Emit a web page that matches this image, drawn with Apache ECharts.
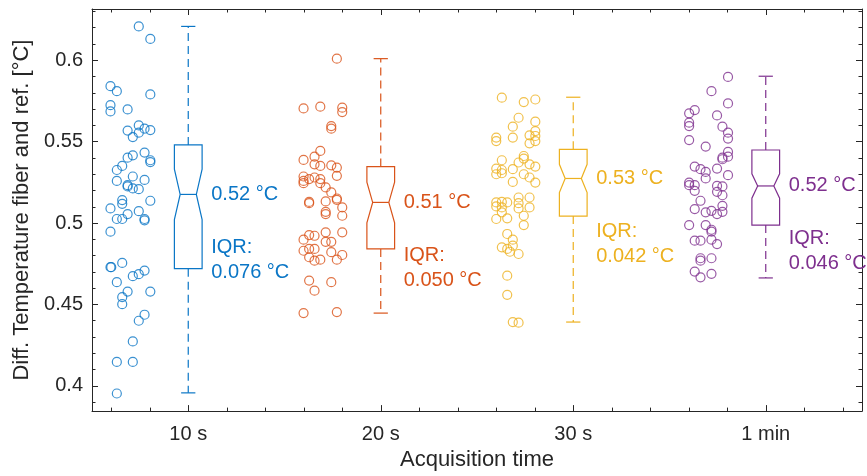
<!DOCTYPE html>
<html><head><meta charset="utf-8">
<script src="https://cdn.jsdelivr.net/npm/echarts@6/dist/echarts.min.js"></script>
<style>html,body{margin:0;padding:0;background:#fff}#c{width:867px;height:476px}</style>
</head><body><div id="c"></div>
<script>
// ---------- data ----------
const categories = ['10 s', '20 s', '30 s', '1 min'];
const seriesColors = ['#0a76c6', '#d95319', '#edb120', '#7e2f8e'];

const values10s = [0.6208,0.6131,0.5841,0.5810,0.5790,0.5724,0.5686,0.5698,0.5600,0.5568,0.5580,0.5571,0.5528,0.5555,0.5433,0.5402,0.5416,0.5386,0.5375,0.5351,0.5326,0.5259,0.5286,0.5265,0.5233,0.5225,0.5213,0.5208,0.5137,0.5141,0.5118,0.5090,0.5055,0.5073,0.5025,0.5025,0.5025,0.5017,0.4947,0.4729,0.4729,0.4755,0.4674,0.4686,0.4708,0.4637,0.4579,0.4579,0.4545,0.4502,0.4437,0.4400,0.4273,0.4147,0.4147,0.3953];
const jitter10s = [-0.257,-0.197,-0.404,-0.371,-0.197,-0.404,-0.404,-0.315,-0.257,-0.315,-0.227,-0.197,-0.288,-0.257,-0.227,-0.315,-0.288,-0.197,-0.197,-0.343,-0.371,-0.371,-0.288,-0.227,-0.315,-0.315,-0.288,-0.257,-0.197,-0.343,-0.343,-0.404,-0.315,-0.257,-0.371,-0.343,-0.227,-0.227,-0.404,-0.404,-0.400,-0.343,-0.288,-0.257,-0.227,-0.371,-0.315,-0.197,-0.343,-0.343,-0.227,-0.257,-0.288,-0.371,-0.288,-0.371];

const values20s = [0.6010,0.5704,0.5715,0.5709,0.5682,0.5596,0.5580,0.5443,0.5408,0.5388,0.5361,0.5351,0.5355,0.5341,0.5290,0.5286,0.5259,0.5245,0.5270,0.5280,0.5270,0.5245,0.5219,0.5188,0.5151,0.5143,0.5130,0.5122,0.5133,0.5096,0.5069,0.5055,0.5045,0.4898,0.4926,0.4922,0.4943,0.4943,0.4885,0.4885,0.4830,0.4841,0.4841,0.4790,0.4769,0.4775,0.4821,0.4775,0.4804,0.4647,0.4637,0.4585,0.4447,0.4453];
const jitter20s = [-0.228,-0.401,-0.314,-0.200,-0.200,-0.257,-0.257,-0.314,-0.344,-0.401,-0.344,-0.314,-0.257,-0.228,-0.228,-0.401,-0.401,-0.401,-0.372,-0.344,-0.314,-0.314,-0.286,-0.257,-0.228,-0.228,-0.372,-0.372,-0.286,-0.200,-0.286,-0.286,-0.200,-0.401,-0.372,-0.344,-0.286,-0.200,-0.286,-0.257,-0.401,-0.372,-0.344,-0.372,-0.344,-0.314,-0.257,-0.228,-0.200,-0.372,-0.257,-0.344,-0.401,-0.228];

const values30s = [0.5770,0.5743,0.5759,0.5647,0.5592,0.5623,0.5525,0.5504,0.5525,0.5539,0.5565,0.5535,0.5504,0.5490,0.5412,0.5396,0.5386,0.5372,0.5361,0.5347,0.5335,0.5326,0.5300,0.5306,0.5331,0.5300,0.5280,0.5249,0.5253,0.5127,0.5130,0.5102,0.5096,0.5127,0.5157,0.5122,0.5090,0.5157,0.5096,0.5066,0.5025,0.5029,0.5045,0.4988,0.4933,0.4898,0.4851,0.4841,0.4861,0.4810,0.4824,0.4677,0.4559,0.4392,0.4388];
const jitter30s = [-0.371,-0.257,-0.197,-0.284,-0.314,-0.197,-0.400,-0.400,-0.314,-0.227,-0.197,-0.197,-0.197,-0.227,-0.257,-0.257,-0.371,-0.284,-0.227,-0.197,-0.400,-0.371,-0.400,-0.371,-0.314,-0.257,-0.227,-0.197,-0.314,-0.400,-0.371,-0.400,-0.371,-0.343,-0.284,-0.284,-0.284,-0.227,-0.227,-0.371,-0.400,-0.343,-0.257,-0.257,-0.343,-0.314,-0.371,-0.343,-0.314,-0.284,-0.329,-0.343,-0.343,-0.314,-0.284];

const values1min = [0.5898,0.5810,0.5735,0.5694,0.5674,0.5617,0.5596,0.5661,0.5592,0.5555,0.5519,0.5510,0.5470,0.5437,0.5408,0.5402,0.5392,0.5347,0.5331,0.5314,0.5274,0.5335,0.5294,0.5249,0.5233,0.5233,0.5198,0.5228,0.5225,0.5192,0.5171,0.5137,0.5086,0.5066,0.5075,0.5055,0.5106,0.5069,0.4988,0.4988,0.4959,0.4947,0.4892,0.4892,0.4898,0.4871,0.4784,0.4769,0.4784,0.4702,0.4667,0.4688];
const jitter1min = [-0.196,-0.282,-0.196,-0.369,-0.398,-0.398,-0.398,-0.253,-0.225,-0.196,-0.196,-0.398,-0.312,-0.196,-0.196,-0.225,-0.225,-0.369,-0.339,-0.312,-0.312,-0.253,-0.196,-0.398,-0.369,-0.398,-0.369,-0.253,-0.225,-0.253,-0.225,-0.339,-0.369,-0.312,-0.282,-0.253,-0.225,-0.225,-0.398,-0.312,-0.282,-0.282,-0.369,-0.339,-0.282,-0.253,-0.339,-0.339,-0.282,-0.369,-0.339,-0.282];

const boxQ1 = [0.4720, 0.4841, 0.5043, 0.4988];
const boxMedian = [0.5176, 0.5127, 0.5274, 0.5228];
const boxQ3 = [0.5480, 0.5347, 0.5453, 0.5449];
const whiskerLow = [0.3957, 0.4447, 0.4392, 0.4663];
const whiskerHigh = [0.6208, 0.6010, 0.5773, 0.5902];
const notchHalf = [0.0155, 0.0125, 0.0087, 0.0075];

const medianLabels = ['0.52 °C', '0.51 °C', '0.53 °C', '0.52 °C'];
const iqrLabels = ['0.076 °C', '0.050 °C', '0.042 °C', '0.046 °C'];

const yMin = 0.3845, yMax = 0.6315;
const xMin = 0.5, xMax = 4.5;

// ---------- chart ----------
const FONT = "'Liberation Sans', Arial, Helvetica, sans-serif";
const AX = '#262626';
const groupValues = [values10s, values20s, values30s, values1min];
const groupJitter = [jitter10s, jitter20s, jitter30s, jitter1min];

function xAxisCfg(pos, withLabels) {
  return {
    type: 'value', position: pos, min: xMin, max: xMax, splitNumber: 4,
    axisLine: { show: true, onZero: false, lineStyle: { color: AX, width: 1 } },
    axisTick: { show: true, inside: true, length: 6, lineStyle: { color: AX, width: 1 } },
    minorTick: { show: true, splitNumber: 5, length: 3.5, lineStyle: { color: AX, width: 1 } },
    splitLine: { show: false }, minorSplitLine: { show: false },
    axisLabel: {
      show: withLabels, margin: 13, color: AX, fontSize: 20, fontFamily: FONT,
      showMinLabel: false, showMaxLabel: false,
      formatter: v => { const k = Math.round(v); return Math.abs(v - k) < 1e-6 && k >= 1 && k <= categories.length ? categories[k - 1] : ''; }
    },
    name: withLabels ? 'Acquisition time' : '', nameLocation: 'middle', nameGap: 37,
    nameTextStyle: { color: AX, fontSize: 22, fontFamily: FONT }
  };
}
function yAxisCfg(pos, withLabels) {
  return {
    type: 'value', position: pos, min: yMin, max: yMax, splitNumber: 5,
    axisLine: { show: true, onZero: false, lineStyle: { color: AX, width: 1 } },
    axisTick: { show: true, inside: true, length: 6, lineStyle: { color: AX, width: 1 } },
    minorTick: { show: true, splitNumber: 5, length: 3.5, lineStyle: { color: AX, width: 1 } },
    splitLine: { show: false }, minorSplitLine: { show: false },
    axisLabel: { show: withLabels, margin: 9, color: AX, fontSize: 20, fontFamily: FONT, showMinLabel: false, showMaxLabel: false },
    name: withLabels ? 'Diff. Temperature fiber and ref. [°C]' : '', nameLocation: 'middle', nameGap: 59,
    nameTextStyle: { color: AX, fontSize: 22, fontFamily: FONT }
  };
}

const scatterSeries = groupValues.map((vals, i) => ({
  type: 'scatter', xAxisIndex: 0, yAxisIndex: 0, silent: true,
  symbol: 'circle', symbolSize: 9,
  itemStyle: { color: 'rgba(0,0,0,0)', borderColor: seriesColors[i], borderWidth: 1.2 },
  data: vals.map((v, k) => [i + 1 + groupJitter[i][k], v])
}));

const boxSeries = {
  type: 'custom', xAxisIndex: 0, yAxisIndex: 0, silent: true, clip: false,
  data: categories.map((c, i) => [i + 1, boxQ1[i], boxMedian[i], boxQ3[i], whiskerLow[i], whiskerHigh[i], notchHalf[i], i]),
  renderItem: function (params, api) {
    const x = api.value(0), q1 = api.value(1), med = api.value(2), q3 = api.value(3);
    const lo = api.value(4), hi = api.value(5), nh = api.value(6), i = api.value(7);
    const col = seriesColors[i];
    const P = (dx, v) => api.coord([x + dx, v]);
    const bw = 0.072, nw = 0.042, cw = 0.037;
    const poly = [P(-bw, q3), P(bw, q3), P(bw, med + nh), P(nw, med), P(bw, med - nh), P(bw, q1),
                  P(-bw, q1), P(-bw, med - nh), P(-nw, med), P(-bw, med + nh)];
    const ln = { stroke: col, lineWidth: 1.2, fill: null };
    const dash = { stroke: col, lineWidth: 1.2, lineDash: [8, 5] };
    const seg = (a, b, st) => ({ type: 'line', shape: { x1: a[0], y1: a[1], x2: b[0], y2: b[1] }, style: st });
    const c0 = P(0, med);
    const txt = (t, dy) => ({ type: 'text', x: c0[0] + 23, y: c0[1] + dy,
      style: { text: t, fill: col, fontSize: 20, fontFamily: FONT, align: 'left', verticalAlign: 'middle' } });
    return { type: 'group', children: [
      seg(P(0, q3), P(0, hi), dash),
      seg(P(0, q1), P(0, lo), dash),
      seg(P(-cw, hi), P(cw, hi), ln),
      seg(P(-cw, lo), P(cw, lo), ln),
      { type: 'polygon', shape: { points: poly }, style: { stroke: col, lineWidth: 1.2, fill: '#fff' } },
      seg(P(-nw, med), P(nw, med), ln),
      txt(medianLabels[i], 0),
      txt('IQR:', 53),
      txt(iqrLabels[i], 78)
    ]};
  }
};

const chart = echarts.init(document.getElementById('c'), null, { renderer: 'canvas' });
chart.setOption({
  animation: false,
  backgroundColor: '#fff',
  grid: { left: 92, right: 5, top: 9, bottom: 63, containLabel: false },
  xAxis: [xAxisCfg('bottom', true), xAxisCfg('top', false)],
  yAxis: [yAxisCfg('left', true), yAxisCfg('right', false)],
  series: [...scatterSeries, boxSeries]
});
</script>
</body></html>
